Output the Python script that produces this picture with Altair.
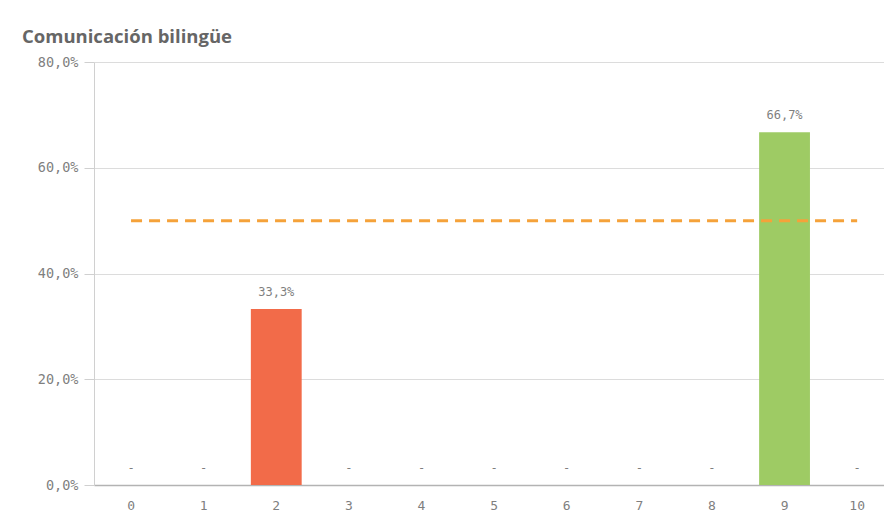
import altair as alt
import pandas as pd

categories = ["0", "1", "2", "3", "4", "5", "6", "7", "8", "9", "10"]
values = [0, 0, 0.333, 0, 0, 0, 0, 0, 0, 0.667, 0]
groups = ["none", "none", "low", "none", "none", "none", "none", "none", "none", "high", "none"]
ref_x = ["0", "10"]
ref_y = [0.5, 0.5]

df = pd.DataFrame({"cat": categories, "value": values, "grp": groups})
ref = pd.DataFrame({"cat": ref_x, "value": ref_y})

xscale = alt.Scale(domain=categories, paddingInner=0.3, paddingOuter=0.09, align=0.89)
yscale = alt.Scale(domain=[0, 0.8], nice=False)

lab_font = "DejaVu Sans Mono"
grey = "#7f7f7f"

x_enc = alt.X("cat:O", scale=xscale, sort=categories, title=None,
              axis=alt.Axis(labelAngle=0, ticks=False, domainColor="#b3b3b3", domainWidth=1.5,
                            labelFont=lab_font, labelFontSize=13, labelColor=grey, labelPadding=14))
y_enc = alt.Y("value:Q", scale=yscale, title=None,
              axis=alt.Axis(values=[0, 0.2, 0.4, 0.6, 0.8],
                            labelExpr="replace(format(datum.value, '.1%'), '.', ',')",
                            labelFont=lab_font, labelFontSize=13.5, labelColor=grey,
                            tickSize=10, tickColor="#d0d0d0", domainColor="#d0d0d0",
                            gridColor="#dcdcdc", labelPadding=6))

bars = alt.Chart(df).mark_bar().encode(
    x=x_enc, y=y_enc,
    color=alt.Color("grp:N", scale=alt.Scale(domain=["none", "low", "high"],
                                             range=["#ffffff", "#f26b49", "#9ecb64"]), legend=None),
)

texts = alt.Chart(df).transform_calculate(
    lab="datum.value > 0 ? replace(format(datum.value, '.1%'), '.', ',') : '-'"
).mark_text(baseline="bottom", dy=-10, font=lab_font, fontSize=12, color=grey).encode(
    x=alt.X("cat:O", scale=xscale, sort=categories),
    y=alt.Y("value:Q", scale=yscale),
    text="lab:N",
)

line = alt.Chart(ref).mark_line(color="#f5a23a", strokeWidth=3, strokeDash=[11, 7]).encode(
    x=alt.X("cat:O", scale=xscale, sort=categories),
    y=alt.Y("value:Q", scale=yscale),
)

chart = alt.layer(bars, line, texts).properties(
    width=790, height=423,
    autosize=alt.AutoSizeParams(type="none"),
    padding={"left": 86, "top": 54, "right": 0, "bottom": 29},
    background="white",
    title=alt.TitleParams("Comunicación bilingüe", anchor="start", frame="group", dx=-72, dy=20,
                          offset=14, font="Open Sans", fontSize=18.5, fontWeight="bold", color="#666666",
                          baseline="alphabetic"),
).configure_view(stroke=None)

chart.save("out.html", embed_options={"renderer": "svg", "actions": False})
